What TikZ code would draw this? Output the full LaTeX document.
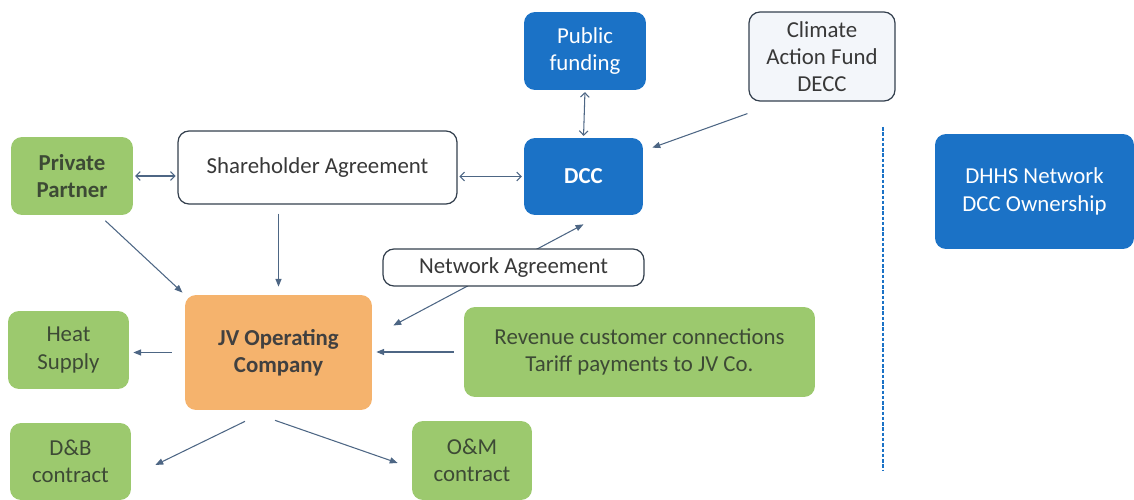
\documentclass[tikz,border=0pt]{standalone}
\usepackage{fontspec}
\setmainfont{Carlito}
\usetikzlibrary{arrows.meta}

\definecolor{dccblue}{HTML}{1B72C6}
\definecolor{boxgreen}{HTML}{9CC96E}
\definecolor{jvorange}{HTML}{F5B36D}
\definecolor{linkblue}{HTML}{4D6684}
\definecolor{edgegray}{HTML}{34404E}
\definecolor{greentext}{HTML}{3D4A35}
\definecolor{paleblue}{HTML}{F3F6FA}

\begin{document}
\begin{tikzpicture}[x=0.02cm,y=-0.02cm,
  font=\fontsize{13}{15.5}\selectfont,
  box/.style={rounded corners=0.22cm,align=center,inner sep=0pt},
  boldbox/.style={font=\fontsize{13}{15.5}\selectfont\bfseries},
  bluebox/.style={box,fill=dccblue,text=white},
  greenbox/.style={box,fill=boxgreen,text=greentext},
  whitebox/.style={box,draw=edgegray,line width=0.7pt,fill=white,text=black!78},
  link/.style={draw=linkblue,line width=0.6pt,-{Triangle[length=4.5pt,width=3.5pt]}},
  twolink/.style={draw=linkblue,line width=0.6pt,{Triangle[length=4.5pt,width=3.5pt]}-{Triangle[length=4.5pt,width=3.5pt]}},
  twoway/.style={draw=linkblue,line width=0.6pt,{Straight Barb[length=2.5pt,width=5pt]}-{Straight Barb[length=2.5pt,width=5pt]},shorten <=1pt,shorten >=1pt}]

\useasboundingbox (0,0) rectangle (1134,500);

% funding side
\node[bluebox,minimum width=2.44cm,minimum height=1.56cm] (pub) at (585,51) {Public\\funding};
\node[whitebox,fill=paleblue,minimum width=2.92cm,minimum height=1.78cm] (fund) at (822,56.5) {Climate\\Action Fund\\DECC};
\node[bluebox,boldbox,minimum width=2.38cm,minimum height=1.54cm] (dcc) at (583.5,176.5) {DCC};

% partners and agreement
\node[greenbox,boldbox,minimum width=2.44cm,minimum height=1.56cm] (partner) at (72,176) {Private\\Partner};
\node[whitebox,minimum width=5.58cm,minimum height=1.46cm] (share) at (317.5,167.5) {Shareholder Agreement};

% the JV company and what it deals with
\node[box,boldbox,fill=jvorange,text=black!75,minimum width=3.74cm,minimum height=2.3cm] (jv) at (278.5,352.5) {JV Operating\\Company};
\node[greenbox,minimum width=2.42cm,minimum height=1.56cm] (heat) at (68.5,350) {Heat\\Supply};
\node[greenbox,minimum width=7.02cm,minimum height=1.8cm] (rev) at (639.5,352) {Revenue customer connections\\Tariff payments to JV Co.};
\node[greenbox,minimum width=2.42cm,minimum height=1.54cm] (db) at (70.5,461.5) {D\&B\\contract};
\node[greenbox,minimum width=2.4cm,minimum height=1.58cm] (om) at (472,460.5) {O\&M\\contract};

% right hand side
\coordinate (sepTop) at (883,127);
\coordinate (sepBot) at (883,470);
\draw[dccblue,line width=1pt,dash pattern=on 2pt off 1pt] (sepTop) -- (sepBot);
\node[bluebox,minimum width=3.98cm,minimum height=2.3cm] (dhhs) at (1034.5,191.5) {DHHS Network\\DCC Ownership};

% arrows
\draw[twoway] (partner.east) -- (partner.east -| share.west);
\draw[twoway] (dcc.west -| share.east) -- (dcc.west);
\draw[twoway] (pub.south) -- (dcc.north);
\draw[link] ([shift={(-1,12)}]fund.south west) -- ([shift={(9,10)}]dcc.north east);
\draw[link,shorten <=0.18cm,shorten >=0.16cm] (share.south -| jv.north) -- (jv.north);
\draw[link,shorten <=0.16cm,shorten >=0.06cm] (partner.-55) -- (jv.north west);
\draw[twolink] ([shift={(21,-27)}]jv.east) -- ([shift={(0,9)}]dcc.south);
\draw[link,shorten <=0.2cm,shorten >=0.08cm] (rev.west) -- (rev.west -| jv.east);
\draw[link,shorten <=0.26cm,shorten >=0.08cm] (jv.west) -- (jv.west -| heat.east);
\draw[link] ([shift={(-33.5,11)}]jv.south) -- ([shift={(24,3.5)}]db.east);
\draw[link] ([shift={(-3.5,10)}]jv.south) -- ([shift={(-14,2.5)}]om.west);

\node[whitebox,minimum width=5.22cm,minimum height=0.74cm] (netag) at (513.5,267.5) {Network Agreement};

\end{tikzpicture}
\end{document}
